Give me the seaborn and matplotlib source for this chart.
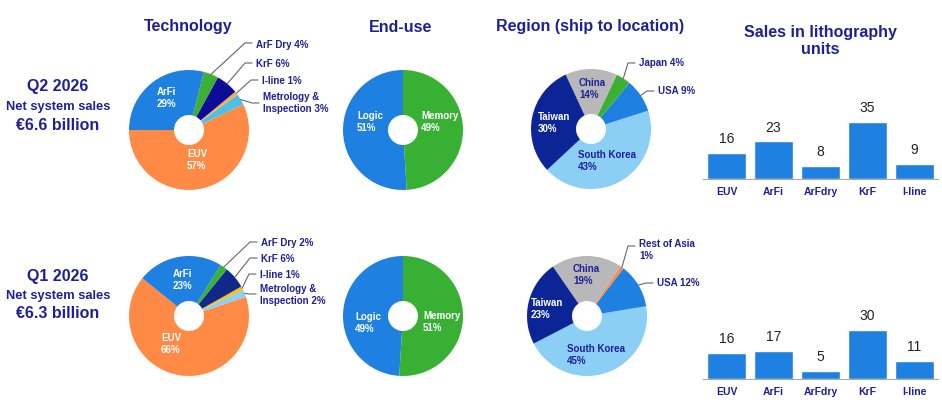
import numpy as np
import matplotlib
matplotlib.use('Agg')
import matplotlib.pyplot as plt
import seaborn as sns

# values
tech_labels = ['EUV', 'Metrology &\nInspection', 'I-line', 'KrF', 'ArF Dry', 'ArFi']
tech_q2 = [57, 3, 1, 6, 4, 29]
tech_q1 = [66, 2, 1, 6, 2, 23]
enduse_labels = ['Logic', 'Memory']
enduse_q2 = [51, 49]
enduse_q1 = [49, 51]
region_labels_q2 = ['South Korea', 'USA', 'Japan', 'China', 'Taiwan']
region_q2 = [43, 9, 4, 14, 30]
region_labels_q1 = ['South Korea', 'USA', 'Rest of Asia', 'China', 'Taiwan']
region_q1 = [45, 12, 1, 19, 23]
unit_cats = ['EUV', 'ArFi', 'ArFdry', 'KrF', 'I-line']
units_q2 = [16, 23, 8, 35, 9]
units_q1 = [16, 17, 5, 30, 11]

navy = '#1f1f99'
blue = '#1e80e0'
orange = '#ff8a45'
green = '#3cb035'
tech_colors_q2 = [orange, '#4dbfe8', '#f5b041', '#0c0c99', green, blue]
tech_colors_q1 = [orange, '#8ccff5', '#ffc000', '#10288c', green, blue]
enduse_colors = [blue, '#38b034']
region_colors_q2 = ['#8ccff5', blue, green, '#b8b8b8', '#0c2596']
region_colors_q1 = ['#8ccff5', blue, orange, '#b8b8b8', '#0c2596']

sns.set_style('white')
plt.rcParams['font.family'] = ['Liberation Sans', 'DejaVu Sans']

W, H = 942, 420
R, HOLE = 60, 15
fig = plt.figure(figsize=(W / 100, H / 100), dpi=100)
ax = fig.add_axes([0, 0, 1, 1])


def donut(vals, colors, cx, cy, start):
    wedges, _ = ax.pie(vals, colors=colors, startangle=start, radius=R,
                       center=(cx, H - cy),
                       wedgeprops=dict(width=R - HOLE, linewidth=0))
    return wedges


def inner(cx, cy, dx, dy, text, color='white'):
    ax.text(cx + dx, H - (cy + dy), text, ha='left', va='center', color=color,
            fontsize=7, fontweight='bold', linespacing=1.25)


def callout(w, cx, cy, text, tx, ty, ly):
    a = np.deg2rad((w.theta1 + w.theta2) / 2)
    x0, y0 = cx + R * np.cos(a), (H - cy) + R * np.sin(a)
    ax.plot([x0, tx - 11, tx - 4], [y0, H - ly, H - ly], color='#666666', lw=0.8)
    ax.text(tx, H - ty, text, ha='left', va='center', color=navy,
            fontsize=7, fontweight='bold', linespacing=1.25)


def pct(label, v, sep='\n'):
    return '%s%s%d%%' % (label, sep, v)


# Technology
cx, cy = 189, 130
w = donut(tech_q2, tech_colors_q2, cx, cy, 180)
inner(cx, cy, -2, 30, pct(tech_labels[0], tech_q2[0]))
inner(cx, cy, -32, -32, pct(tech_labels[5], tech_q2[5]))
callout(w[4], cx, cy, pct(tech_labels[4], tech_q2[4], ' '), 256, 45, 43)
callout(w[3], cx, cy, pct(tech_labels[3], tech_q2[3], ' '), 256, 64, 63)
callout(w[2], cx, cy, pct(tech_labels[2], tech_q2[2], ' '), 262, 81, 80)
callout(w[1], cx, cy, pct(tech_labels[1], tech_q2[1], ' '), 263, 103, 103)

cx, cy = 189, 316
w = donut(tech_q1, tech_colors_q1, cx, cy, 141)
inner(cx, cy, -28, 28, pct(tech_labels[0], tech_q1[0]))
inner(cx, cy, -16, -36, pct(tech_labels[5], tech_q1[5]))
callout(w[4], cx, cy, pct(tech_labels[4], tech_q1[4], ' '), 261, 243, 242)
callout(w[3], cx, cy, pct(tech_labels[3], tech_q1[3], ' '), 261, 259, 258)
callout(w[2], cx, cy, pct(tech_labels[2], tech_q1[2], ' '), 260, 275, 274)
callout(w[1], cx, cy, pct(tech_labels[1], tech_q1[1], ' '), 260, 295, 294)

# End-use
cx, cy = 403, 130
donut(enduse_q2, enduse_colors, cx, cy, 90)
inner(cx, cy, -46, -8, pct(enduse_labels[0], enduse_q2[0]))
inner(cx, cy, 18, -8, pct(enduse_labels[1], enduse_q2[1]))
cx, cy = 403, 316
donut(enduse_q1, enduse_colors, cx, cy, 90)
inner(cx, cy, -48, 7, pct(enduse_labels[0], enduse_q1[0]))
inner(cx, cy, 20, 6, pct(enduse_labels[1], enduse_q1[1]))

# Region
cx, cy = 591, 129
w = donut(region_q2, region_colors_q2, cx, cy, 223)
inner(cx, cy, -13, 32, pct(region_labels_q2[0], region_q2[0]), navy)
inner(cx, cy, -12, -40, pct(region_labels_q2[3], region_q2[3]), navy)
inner(cx, cy, -53, -6, pct(region_labels_q2[4], region_q2[4]))
callout(w[2], cx, cy, pct(region_labels_q2[2], region_q2[2], ' '), 639, 63, 63)
callout(w[1], cx, cy, pct(region_labels_q2[1], region_q2[1], ' '), 658, 91, 91)

cx, cy = 587, 316
w = donut(region_q1, region_colors_q1, cx, cy, 207.4)
inner(cx, cy, -20, 39, pct(region_labels_q1[0], region_q1[0]), navy)
inner(cx, cy, -14, -41, pct(region_labels_q1[3], region_q1[3]), navy)
inner(cx, cy, -56, -7, pct(region_labels_q1[4], region_q1[4]))
callout(w[2], cx, cy, pct(region_labels_q1[2], region_q1[2]), 639, 250, 246)
callout(w[1], cx, cy, pct(region_labels_q1[1], region_q1[1], ' '), 657, 283, 283)

ax.set_xlim(0, W)
ax.set_ylim(0, H)
ax.set_aspect('auto')
ax.axis('off')

# titles
for x, y, t in [(188, 27, 'Technology'), (401, 27, 'End-use'),
                (590, 27, 'Region (ship to location)'),
                (820, 41, 'Sales in lithography\nunits')]:
    ax.text(x, H - y, t, ha='center', va='center', color=navy,
            fontsize=11.5, fontweight='bold', linespacing=1.15)

# quarter labels
for y0, q, amount in [(87, 'Q2 2026', '€6.6 billion'), (276, 'Q1 2026', '€6.3 billion')]:
    ax.text(58, H - y0, q, ha='center', va='center', color=navy, fontsize=11.5, fontweight='bold')
    ax.text(58, H - y0 - 20, 'Net system sales', ha='center', va='center', color=navy,
            fontsize=9.3, fontweight='bold')
    ax.text(58, H - y0 - 38, amount, ha='center', va='center', color=navy,
            fontsize=11.5, fontweight='bold')

# unit bars
for base, vals in [(179, units_q2), (379, units_q1)]:
    bx = fig.add_axes([703 / W, (H - base) / H, 235 / W, 80 / H])
    sns.barplot(x=unit_cats, y=vals, color=blue, saturation=1, width=0.83, ax=bx)
    bx.bar_label(bx.containers[0], padding=5, fontsize=10, color='#222222')
    bx.set_ylim(0, 49)
    bx.set_xlim(-0.5, 4.5)
    bx.set_yticks([])
    bx.set_ylabel('')
    for s in ['top', 'left', 'right']:
        bx.spines[s].set_visible(False)
    bx.spines['bottom'].set_color('#aaaaaa')
    bx.tick_params(axis='x', length=0, pad=6, labelsize=7.5, labelcolor=navy)
    for lab in bx.get_xticklabels():
        lab.set_fontweight('bold')
    bx.patch.set_alpha(0)

fig.savefig('out.png', dpi=100)
